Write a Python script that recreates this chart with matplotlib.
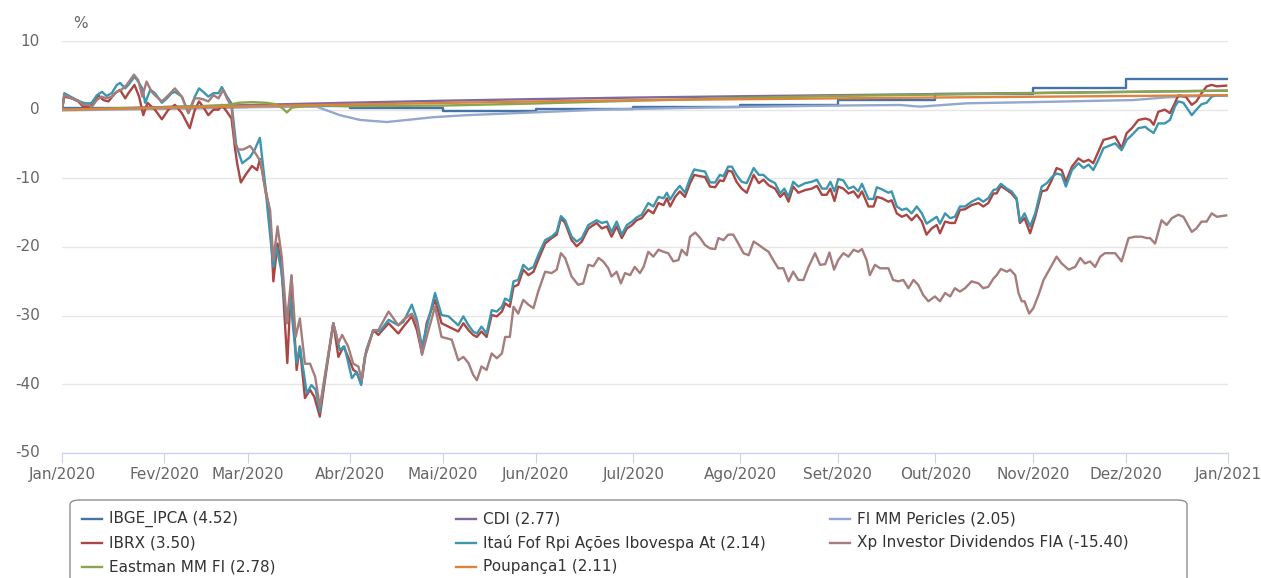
import matplotlib
matplotlib.use("Agg")
import matplotlib.pyplot as plt
from matplotlib.lines import Line2D
from matplotlib.patches import FancyBboxPatch

plt.rcParams['font.family'] = ['DejaVu Sans']

# ---------------- data ----------------
month_labels = ["Jan/2020", "Fev/2020", "Mar/2020", "Abr/2020", "Mai/2020", "Jun/2020",
                "Jul/2020", "Ago/2020", "Set/2020", "Out/2020", "Nov/2020", "Dez/2020", "Jan/2021"]
# trading-day index where each month starts (ordinal axis)
month_start_day = [0, 22, 40, 62, 82, 102, 123, 146, 167, 188, 209, 229, 251]

ipca_month_value = [0.21, 0.46, 0.53, 0.22, -0.16, 0.10, 0.46, 0.70, 1.35, 2.22, 3.13, 4.52]

cdi_value = [0, 0.38, 0.67, 1.01, 1.30, 1.54, 1.76, 1.95, 2.11, 2.27, 2.43, 2.58, 2.77]
poup_value = [0, 0.26, 0.50, 0.75, 0.98, 1.20, 1.38, 1.52, 1.65, 1.77, 1.88, 1.99, 2.11]

eastman_day = [0, 10, 20, 30, 36, 38, 41, 44, 46, 47.5, 48.4, 49.5, 52, 56, 62, 82, 102, 123, 146, 167, 188, 209, 229, 251]
eastman_value = [0, 0.15, 0.3, 0.5, 0.7, 1.0, 1.1, 1.0, 0.8, 0.2, -0.4, 0.3, 0.5, 0.6, 0.5, 0.6, 0.9, 1.3, 1.7, 2.0, 2.2, 2.4, 2.6, 2.78]

pericles_day = [0, 10, 20, 30, 40, 51.2, 54.8, 59.8, 64.2, 69.9, 74.2, 79.9, 87.1, 94.3, 101.4, 108.7, 115.8,
                130, 146, 167, 180.4, 184.7, 194.8, 209, 223.5, 230.6, 237.9, 245, 251]
pericles_value = [-0.1, 0.0, 0.1, 0.2, 0.35, 0.44, 0.44, -0.8, -1.5, -1.8, -1.5, -1.1, -0.8, -0.6, -0.4, -0.2, 0.0,
                  0.2, 0.4, 0.6, 0.68, 0.44, 0.93, 1.1, 1.3, 1.4, 1.8, 2.0, 2.05]

ibrx_day = [0, 0.5, 2.1, 3.5, 4.6, 5.7, 6.4, 7.8, 8.9, 10, 11.4, 12.5, 13.6, 14.3, 15.6, 16.6, 17.5, 18.4, 20, 21.5,
            22.9, 24.3, 25.8, 27.5, 28.6, 29.5, 30.4, 31.5, 32.6, 33.7, 34.4, 35.5, 36.5, 37.2, 37.7, 38.5, 39.6, 40.9,
            42.0, 42.6, 43.7, 44.4, 45.1, 45.5, 46.4, 47.2, 47.7, 48.5, 49.4, 50.5, 51.2, 52.3, 53.4, 54.3, 55.5, 56.6,
            58.4, 59.5, 60.6, 61.6, 62.7, 63.4, 64.4, 65.2, 67, 68.1, 70.3, 72.4, 73.5, 75.3, 76.4, 77.5, 78.5, 80.3,
            81.7, 83.2, 85.3, 86.4, 87.5, 88.5, 89.3, 90.3, 91.4, 92.5, 93.6, 94.7, 95.4, 96.4, 97.2, 98.2, 99.3,
            100.4, 101.5, 102.5, 104, 105.4, 106.5, 107.4, 108.3, 109.7, 110.8, 111.9, 113.3, 115.1, 116.2, 117.3,
            118.3, 119.4, 120.5, 121.6, 122.7, 123.7, 124.8, 126.2, 127.3, 128.4, 129.5, 130.2, 130.9, 132, 133,
            134.1, 135.2, 136.1, 137.4, 138.4, 139.5, 140.6, 141.6, 142.4, 143.4, 144.2, 145.2, 146.3, 147.4, 148.9,
            150, 151, 152.1, 153.5, 154.6, 155.5, 156.4, 157.4, 158.5, 160, 161.4, 162.5, 163.6, 164.6, 165.4, 166.3,
            167.1, 168.2, 169.3, 170.4, 171.4, 172.2, 173.6, 174.7, 175.4, 176.5, 177.9, 178.6, 179.7, 180.8, 181.8,
            182.9, 184, 185.1, 186.1, 187.2, 188.3, 189, 190.1, 191.2, 192.2, 193.3, 194.4, 195.8, 197.3, 198.3,
            199.4, 200.5, 201.2, 202.1, 203.4, 204.4, 205.5, 206.2, 207.2, 208.4, 209.5, 210.9, 212, 213.1, 214.1,
            215.2, 216.1, 217.4, 218.8, 219.9, 221, 222, 223.1, 224.2, 225.3, 226.7, 228.1, 229.2, 230.3, 231.7,
            233.2, 234.2, 235, 236, 237.4, 238.5, 239.6, 240.3, 241.9, 243.2, 244.2, 245.3, 246.4, 247.5, 248.6, 250.6]
ibrx_value = [0, 1.9, 1.65, 1.2, 0.4, 0.4, 0.7, 2.1, 1.4, 1.2, 2.4, 2.9, 1.65, 2.4, 3.6, 1.9, -0.8, 1.0, 0, -1.4,
              0, 0.7, -0.5, -2.7, 0, 1.2, 0.4, -0.8, 0, 0, 0.7, -0.3, -1.3, -5.4, -7.8, -10.6, -9.4, -8.2,
              -8.8, -7.2, -11.2, -13.6, -19.5, -25.0, -19.5, -22.4, -27.7, -36.9, -24.3, -37.9, -34.5, -42.0, -40.8, -41.8, -44.7, -39.4,
              -31.1, -36.0, -34.5, -36.0, -37.9, -38.2, -39.9, -36.0, -32.1, -32.8, -31.1, -32.6, -31.6, -30.1, -32.1, -35.5, -31.1, -27.7,
              -31.1, -31.6, -32.3, -31.1, -32.1, -32.8, -33.1, -32.3, -33.1, -29.9, -30.1, -29.4, -28.2, -28.7, -25.8, -25.5, -23.3,
              -24.1, -23.6, -21.9, -19.5, -18.7, -18.2, -15.8, -16.5, -19.0, -19.9, -19.2, -17.3, -16.5, -17.3, -17.0,
              -18.5, -17.0, -18.7, -17.3, -16.8, -16.1, -15.8, -14.6, -15.1, -13.6, -13.9, -12.9, -14.1, -12.7, -11.9,
              -12.7, -10.7, -9.5, -9.7, -9.8, -11.2, -11.3, -10.3, -10.4, -8.9, -9.0, -10.5, -11.5, -12.1, -9.5,
              -10.7, -10.2, -11.0, -11.5, -12.7, -12.1, -13.4, -11.2, -12.1, -11.7, -11.5, -11.1, -12.4, -12.4, -11.5, -13.3,
              -11.2, -11.5, -12.2, -11.9, -12.8, -11.9, -14.1, -14.1, -12.7, -12.9, -13.4, -13.2, -15.1, -15.6, -15.3,
              -16.1, -15.3, -16.3, -18.2, -17.3, -16.8, -18.0, -16.3, -16.5, -16.5, -14.6, -14.5, -13.9, -13.6, -14.1,
              -13.6, -12.2, -12.2, -11.1, -11.7, -12.2, -13.1, -16.5, -15.8, -18.0, -15.6, -11.9, -11.7, -10.2, -8.5,
              -8.8, -10.5, -8.3, -7.1, -7.6, -7.3, -7.8, -6.1, -4.4, -4.2, -3.9, -5.6, -3.4, -2.7, -1.5,
              -1.3, -1.5, -2.2, -0.3, 0, -0.5, 1.0, 2.1, 1.9, 0.7, 1.2, 2.4, 3.4, 3.6, 3.4, 3.5]

itau_day = [0, 0.5, 2.1, 3.5, 4.6, 5.7, 6.4, 7.5, 8.6, 9.6, 10.7, 11.8, 12.5, 13.6, 14.4, 15.6, 16.4, 17.3, 17.9, 19.0,
            20, 21.5, 22.5, 23.6, 24.3, 25.8, 27.2, 28.6, 29.5, 30.4, 31.5, 32.6, 33.7, 34.4, 35.5, 36.5, 37.5, 38.8,
            40.5, 41.5, 42.6, 43.7, 44.4, 45.5, 46.2, 47.2, 48.4, 49.1, 50.5, 51.2, 52.7, 53.7, 54.6, 55.5, 56.6, 58.4,
            59.8, 60.8, 62.4, 63.4, 64.4, 65.5, 67, 68.4, 70.3, 72.4, 73.5, 75.3, 76.4, 77.5, 78.9, 80.3, 81.7, 83.2,
            85.3, 86.4, 87.5, 88.5, 89.3, 90.3, 91.4, 92.5, 93.6, 94.7, 95.4, 96.4, 97.2, 98.2, 99.3, 100.4, 101.5,
            102.5, 104, 105.4, 106.5, 107.4, 108.3, 109.7, 110.8, 111.9, 113.3, 115.1, 116.2, 117.3, 118.3, 119.4,
            120.5, 121.6, 122.7, 123.7, 124.8, 126.2, 127.3, 128.4, 129.5, 130.2, 130.9, 132, 133, 134.1, 135.2, 136.1,
            137.4, 138.4, 139.5, 140.6, 141.6, 142.4, 143.4, 144.2, 145.2, 146.3, 147.4, 148.9, 150, 151, 152.1, 153.5,
            154.6, 155.5, 156.4, 157.4, 158.5, 160, 161.4, 162.5, 163.6, 164.6, 165.4, 166.3, 167.1, 168.2, 169.3,
            170.4, 171.4, 172.2, 173.6, 174.7, 175.4, 176.5, 177.9, 178.6, 179.7, 180.8, 181.8, 182.9, 184, 185.1,
            186.1, 187.2, 188.3, 189, 190.1, 191.2, 192.2, 193.3, 194.4, 195.8, 197.3, 198.3, 199.4, 200.5, 201.2,
            202.1, 203.4, 204.4, 205.5, 206.2, 207.2, 208.4, 209.5, 210.9, 212, 213.1, 214.1, 215.2, 216.1, 217.4,
            218.8, 219.9, 221, 222, 223.1, 224.2, 225.3, 226.7, 228.1, 229.2, 230.3, 231.7, 233.2, 233.9, 235, 236,
            237.4, 238.5, 239.6, 240.3, 241.4, 243.2, 244.2, 245.3, 246.4, 247.5, 248.6, 250.6]
itau_value = [0, 2.4, 1.8, 1.3, 1.0, 0.9, 1.0, 2.1, 2.6, 2.0, 2.4, 3.6, 3.9, 3.1, 3.7, 4.8, 4.1, 3.1, 1.0, 2.9,
              2.4, 1.0, 1.6, 2.4, 2.6, 1.9, -0.5, 1.9, 3.1, 2.6, 1.9, 2.4, 2.4, 3.3, 1.9, 0.9, -5.2, -7.8,
              -6.9, -5.8, -4.1, -10.7, -15.6, -22.9, -20.0, -23.4, -31.1, -27.2, -36.9, -34.5, -41.3, -40.1, -40.8, -44.0, -38.9, -31.1,
              -35.0, -34.5, -39.1, -38.2, -40.1, -35.0, -32.1, -32.3, -30.6, -31.4, -30.9, -28.4, -30.6, -34.5, -30.6, -26.7, -29.9, -30.1,
              -31.4, -30.1, -31.4, -32.3, -32.6, -31.6, -32.6, -29.2, -29.4, -28.7, -27.5, -27.9, -25.0, -24.8, -22.6, -23.3, -22.9,
              -21.2, -19.0, -18.5, -17.8, -15.5, -16.1, -18.5, -19.2, -18.7, -16.8, -16.1, -16.5, -16.3, -17.8, -16.3,
              -18.2, -16.8, -16.3, -15.7, -15.3, -13.6, -14.1, -12.7, -12.9, -12.1, -13.1, -11.9, -11.1, -12.1, -10.0, -8.7,
              -8.9, -9.0, -10.6, -10.6, -9.5, -9.7, -8.3, -8.3, -9.5, -10.5, -10.7, -8.5, -9.5, -9.5, -10.2, -10.7,
              -12.2, -11.5, -12.7, -10.5, -11.2, -10.7, -10.5, -10.2, -11.5, -11.5, -10.5, -11.9, -10.1, -10.3, -11.5,
              -11.2, -11.9, -10.8, -13.0, -13.0, -11.3, -11.6, -12.1, -11.9, -14.1, -14.6, -14.4, -15.1, -14.1, -15.1,
              -16.6, -16.1, -15.6, -16.6, -15.1, -15.8, -15.6, -14.1, -14.1, -13.4, -12.9, -13.4, -12.9, -11.7, -11.6,
              -10.8, -11.5, -11.9, -12.9, -16.3, -15.1, -17.0, -15.1, -11.2, -10.7, -9.8, -9.3, -9.5, -11.2, -8.8,
              -7.8, -8.5, -8.0, -8.8, -7.3, -5.6, -5.3, -4.9, -5.9, -4.4, -3.7, -2.7, -2.5, -2.9, -3.4, -2.0,
              -2.0, -1.5, 0.5, 1.2, 1.0, -0.8, 0, 0.8, 1.0, 1.9, 2.1, 2.1]

xp_day = [0, 0.5, 2.1, 3.5, 4.6, 5.7, 6.4, 7.5, 8.5, 9.6, 10.7, 11.8, 12.8, 13.9, 15.5, 16.4, 17.3, 18.2, 19.3, 20,
          21.5, 22.9, 24.3, 25.8, 27.2, 28.6, 29.5, 30.4, 31.5, 32.6, 33.7, 34.7, 35.5, 36.5, 37.2, 37.9, 39.0, 40.5,
          41.5, 42.8, 43.8, 44.8, 45.5, 46.4, 47.3, 48.4, 49.4, 50.3, 51.2, 52.3, 53.4, 54.5, 55.5, 57.0, 58.4, 59.5,
          60.3, 61.6, 62.7, 63.8, 64.5, 65.2, 67.0, 68.1, 70.3, 72.4, 73.5, 75.3, 76.4, 77.5, 78.9, 80.3, 81.7, 82.8,
          83.9, 85.3, 86.4, 87.5, 88.5, 89.3, 90.3, 91.4, 92.5, 93.6, 94.7, 95.4, 96.4, 97.2, 98.2, 99.3, 100.4,
          101.5, 102.5, 104, 105.4, 106.5, 107.4, 108.3, 109.7, 111.1, 112.2, 113.3, 114.4, 115.5, 116.5, 117.6,
          118.3, 119.4, 120.3, 121.2, 122.3, 123.3, 124.4, 125.2, 126.2, 127.3, 128.4, 129.5, 130.5, 131.6, 132.7,
          133.4, 134.5, 135.2, 136.3, 137.4, 138.4, 139.5, 140.6, 141.3, 142.4, 143.4, 144.5, 145.6, 146.7, 147.8,
          148.9, 150, 151, 152.1, 153.1, 154.2, 155.3, 156.4, 157.4, 158.5, 159.6, 160.7, 162.1, 163.2, 164.3, 165.2,
          166.2, 167.1, 168.2, 169.3, 170.4, 171.4, 172.2, 173.2, 173.9, 175.0, 176.1, 177.9, 178.9, 180.0, 181.1,
          182.2, 183.3, 184.3, 185.4, 186.5, 187.9, 189.0, 190.1, 191.2, 192.2, 193.3, 194.4, 195.8, 197.3, 198.3,
          199.4, 200.5, 201.2, 202.1, 203.4, 204.1, 205.2, 205.9, 206.6, 207.2, 208.2, 209.1, 210.2, 211.3, 212.7,
          214.1, 215.2, 216.7, 218.1, 219.2, 220.2, 221.3, 222.4, 223.5, 224.5, 225.6, 226.7, 228.1, 229.6, 231.0,
          232.4, 233.5, 234.2, 235.3, 236.7, 237.8, 238.9, 240.3, 241.4, 243.2, 244.2, 245.3, 246.4, 247.5, 248.6, 250.6]
xp_value = [0, 2.1, 1.65, 1.3, 0.7, 0.7, 0.4, 1.4, 1.9, 1.65, 1.9, 2.6, 2.9, 3.6, 5.1, 4.3, 1.9, 4.1, 2.6, 2.1,
            1.2, 2.1, 3.1, 1.9, -0.5, 1.65, 1.65, 1.5, 1.2, 2.1, 1.65, 2.9, 1.65, 0.4, -4.7, -5.8, -5.8, -5.3,
            -6.2, -7.6, -12.0, -14.6, -21.9, -17.0, -21.4, -31.1, -24.1, -33.1, -30.4, -37.0, -37.0, -38.9, -43.3, -37.0, -31.1, -34.0,
            -32.8, -34.5, -37.0, -37.4, -39.4, -36.0, -32.1, -32.1, -29.4, -31.4, -30.6, -29.7, -31.1, -35.7, -32.1, -28.7, -33.1, -33.3,
            -33.5, -36.5, -36.0, -36.9, -38.6, -39.4, -37.4, -37.9, -35.5, -36.2, -35.5, -33.1, -33.1, -28.7, -29.7, -27.7, -28.4,
            -28.9, -26.5, -23.6, -23.8, -23.3, -20.9, -21.6, -24.3, -25.5, -25.3, -22.6, -22.8, -21.6, -22.1, -23.1,
            -24.3, -23.6, -25.3, -23.8, -24.1, -22.9, -23.8, -22.9, -20.7, -21.4, -20.4, -20.7, -20.9, -22.1, -21.9,
            -20.4, -21.2, -18.5, -17.9, -18.7, -19.7, -20.2, -20.3, -18.7, -19.0, -18.2, -18.2, -19.5, -20.9, -21.2,
            -19.2, -19.7, -20.2, -20.7, -21.9, -23.1, -23.1, -25.0, -23.6, -24.8, -24.8, -22.9, -20.9, -22.6, -22.5, -20.8,
            -23.3, -21.9, -20.9, -21.4, -20.4, -20.7, -20.3, -21.9, -24.1, -22.6, -23.1, -23.1, -24.8, -25.0, -24.8,
            -26.0, -24.8, -25.5, -27.0, -27.9, -27.2, -27.9, -26.7, -27.2, -26.0, -26.5, -26.0, -25.0, -25.3, -26.0,
            -25.8, -24.6, -24.1, -23.2, -23.6, -23.3, -24.1, -26.7, -27.9, -27.9, -29.7, -28.9, -27.0, -24.8, -23.1,
            -21.4, -22.4, -23.3, -22.9, -21.6, -22.4, -22.1, -22.9, -21.4, -20.9, -20.9, -20.9, -22.1, -18.7, -18.5,
            -18.5, -18.7, -18.7, -19.5, -16.1, -16.8, -15.8, -15.3, -15.6, -17.8, -17.3, -16.3, -16.3, -15.1, -15.6, -15.4]

series_names = ["IBGE_IPCA (4.52)", "CDI (2.77)", "FI MM Pericles (2.05)", "IBRX (3.50)",
                "Itaú Fof Rpi Ações Ibovespa At (2.14)", "Xp Investor Dividendos FIA (-15.40)",
                "Eastman MM FI (2.78)", "Poupança1 (2.11)"]
series_colors = ["#4572A7", "#80699B", "#92A8CD", "#AA4643", "#3D96AE", "#A47D7C", "#89A54E", "#DB843D"]

y_ticks = [-50, -40, -30, -20, -10, 0, 10]

# ---------------- figure ----------------
W, H = 1261, 578
fig = plt.figure(figsize=(W / 100, H / 100), dpi=100)
x0, x1, yb, yt = 62, 1228, 453, 41
ax = fig.add_axes([x0 / W, 1 - yb / H, (x1 - x0) / W, (yb - yt) / H])
ax.set_xlim(month_start_day[0], month_start_day[-1])
ax.set_ylim(-50, 10)

lw = 1.7
fs = 11
ipca_x = month_start_day
ipca_y = ipca_month_value + [ipca_month_value[-1]]
lines = []
lines.append(ax.step(ipca_x, ipca_y, where='post', color=series_colors[0], lw=lw, zorder=3)[0])
lines.append(ax.plot(month_start_day, cdi_value, color=series_colors[1], lw=lw, zorder=3)[0])
lines.append(ax.plot(pericles_day, pericles_value, color=series_colors[2], lw=lw, zorder=3)[0])
lines.append(ax.plot(ibrx_day, ibrx_value, color=series_colors[3], lw=lw, zorder=3)[0])
lines.append(ax.plot(itau_day, itau_value, color=series_colors[4], lw=lw, zorder=3)[0])
lines.append(ax.plot(xp_day, xp_value, color=series_colors[5], lw=lw, zorder=3)[0])
lines.append(ax.plot(eastman_day, eastman_value, color=series_colors[6], lw=lw, zorder=3)[0])
lines.append(ax.plot(month_start_day, poup_value, color=series_colors[7], lw=lw, zorder=3)[0])
for ln in lines:
    ln.set_solid_joinstyle('round')

# grid and axes styling
ax.set_yticks(y_ticks)
ax.set_yticklabels([str(v) for v in y_ticks])
ax.grid(axis='y', color='#e6e6e6', lw=1, zorder=0)
ax.set_xticks(month_start_day)
ax.set_xticklabels(month_labels)
for s in ['top', 'right', 'left']:
    ax.spines[s].set_visible(False)
ax.spines['bottom'].set_color('#ccd6eb')
ax.spines['bottom'].set_linewidth(1)
ax.spines['bottom'].set_zorder(1)
ax.tick_params(axis='x', direction='out', length=7.2, width=0.8, color='#ccd6eb',
               labelcolor='#666666', labelsize=fs, pad=3)
ax.tick_params(axis='y', length=0, labelcolor='#666666', labelsize=fs, pad=16)
for lab in ax.get_yticklabels():
    lab.set_va('center')

fig.text(80 / W, 1 - 23 / H, "%", color='#666666', fontsize=fs, ha='center', va='center')

# ---------------- legend ----------------
box = FancyBboxPatch((70 / W, 1 - 600 / H), (1187 - 70) / W, (600 - 500) / H,
                     boxstyle="round,pad=0,rounding_size=0.008", transform=fig.transFigure,
                     facecolor='white', edgecolor='#909090', lw=1, zorder=1)
fig.add_artist(box)
col_x = [82, 456, 830]
row_y = [519, 543, 567]
order = [(0, 0), (0, 1), (0, 2), (1, 0), (1, 1), (1, 2), (2, 0), (2, 1)]
for i, (r, c) in enumerate(order):
    xa = col_x[c]
    ya = 1 - row_y[r] / H
    fig.add_artist(Line2D([xa / W, (xa + 20) / W], [ya, ya], color=series_colors[i], lw=lw,
                          transform=fig.transFigure, zorder=2))
    fig.text((xa + 27) / W, ya, series_names[i], color='#333333', fontsize=fs,
             ha='left', va='center', zorder=2)

fig.savefig("out.png", dpi=100)
